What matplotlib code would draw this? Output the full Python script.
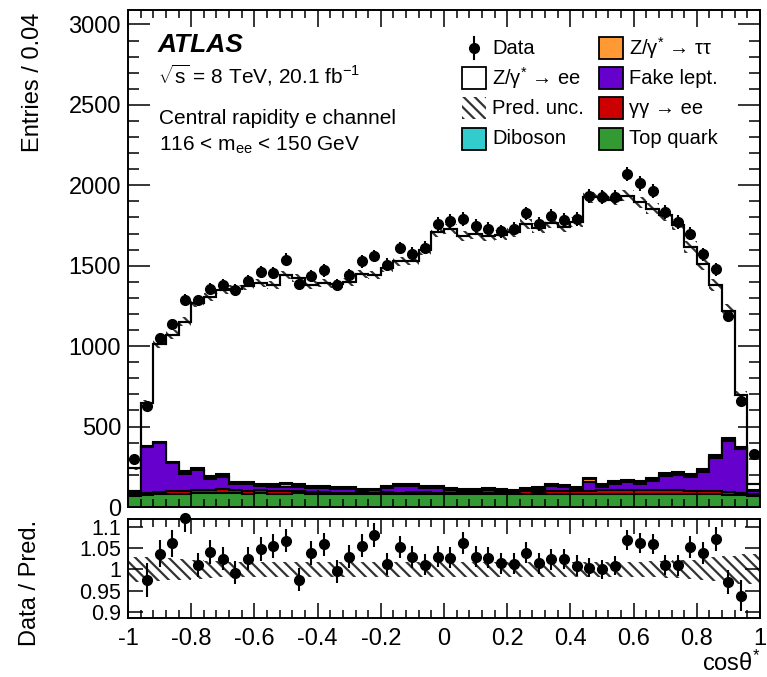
import numpy as np
import matplotlib
matplotlib.use("Agg")
import matplotlib.pyplot as plt
from matplotlib.ticker import MultipleLocator, FixedLocator
from matplotlib.patches import Rectangle
from matplotlib.lines import Line2D

plt.rcParams["font.family"] = ["Liberation Sans", "DejaVu Sans"]
plt.rcParams["mathtext.fontset"] = "custom"
plt.rcParams["mathtext.rm"] = "Liberation Sans"
plt.rcParams["mathtext.it"] = "Liberation Sans:italic"
plt.rcParams["hatch.linewidth"] = 1.6

W, H = 767, 677
edges = np.linspace(-1.0, 1.0, 51)   # 50 bins of 0.04 in cos(theta*)

# observed events per bin
data = np.array([
    300, 630, 1052, 1135, 1289, 1284, 1357, 1382, 1347, 1405,
    1461, 1455, 1538, 1388, 1436, 1471, 1380, 1440, 1527, 1560,
    1507, 1610, 1575, 1613, 1758, 1777, 1789, 1746, 1731, 1714,
    1731, 1825, 1758, 1808, 1783, 1789, 1933, 1928, 1928, 2070,
    2012, 1964, 1835, 1772, 1700, 1571, 1477, 1186, 656, 330])

# predicted contributions per bin
zee = np.array([
    140, 266, 608, 788, 927, 1026, 1112, 1144, 1202, 1215,
    1249, 1238, 1289, 1281, 1252, 1259, 1261, 1274, 1337, 1329,
    1357, 1388, 1390, 1464, 1576, 1609, 1572, 1582, 1567, 1577,
    1601, 1639, 1612, 1622, 1604, 1648, 1742, 1787, 1749, 1765,
    1734, 1672, 1605, 1538, 1412, 1278, 1058, 793, 323, 36])
top = np.array([
    70, 75, 78, 80, 80, 85, 85, 88, 85, 82,
    85, 82, 82, 85, 83, 80, 80, 78, 78, 80,
    82, 80, 80, 82, 80, 80, 78, 80, 78, 80,
    80, 82, 80, 82, 82, 80, 80, 82, 80, 82,
    82, 82, 82, 80, 80, 80, 78, 75, 72, 70])
gamgam = np.array([
    8, 12, 18, 20, 18, 22, 22, 25, 22, 20,
    20, 20, 20, 15, 12, 12, 10, 10, 8, 8,
    10, 10, 12, 10, 10, 10, 10, 10, 10, 10,
    12, 15, 15, 18, 20, 18, 22, 22, 25, 25,
    25, 25, 25, 25, 22, 22, 20, 18, 12, 10])
fake = np.array([
    18, 285, 303, 172, 110, 122, 70, 75, 35, 40,
    25, 24, 25, 26, 23, 26, 23, 25, 12, 15,
    26, 38, 36, 26, 28, 17, 12, 10, 17, 10,
    3, 8, 13, 31, 21, 13, 56, 21, 41, 47,
    39, 52, 87, 97, 86, 117, 206, 317, 277, 18])
tautau = np.array([
    1, 2, 2, 2, 4, 4, 4, 4, 4, 4,
    5, 5, 15, 5, 4, 4, 4, 4, 4, 4,
    4, 4, 4, 4, 4, 4, 4, 4, 4, 4,
    4, 4, 4, 4, 4, 4, 15, 4, 4, 4,
    4, 12, 4, 4, 4, 4, 4, 4, 3, 1])
diboson = np.array([
    3, 6, 6, 8, 12, 12, 12, 12, 10, 10,
    10, 10, 10, 10, 9, 9, 8, 8, 8, 8,
    9, 9, 9, 9, 9, 9, 9, 9, 9, 9,
    9, 9, 10, 10, 10, 10, 10, 12, 12, 12,
    12, 12, 12, 12, 12, 12, 14, 14, 12, 6])
# relative uncertainty of the prediction
pred_unc = np.array([
    0.030, 0.030, 0.028, 0.026, 0.024, 0.022, 0.020, 0.019, 0.018, 0.018,
    0.018, 0.018, 0.018, 0.018, 0.018, 0.018, 0.018, 0.018, 0.018, 0.018,
    0.018, 0.018, 0.018, 0.018, 0.018, 0.018, 0.018, 0.018, 0.018, 0.018,
    0.018, 0.018, 0.018, 0.018, 0.018, 0.018, 0.018, 0.018, 0.018, 0.018,
    0.018, 0.019, 0.020, 0.021, 0.023, 0.025, 0.028, 0.032, 0.035, 0.035])

C_TOP, C_GG, C_FAKE = "#339933", "#cc0000", "#6600cc"
C_TT, C_DIB = "#ff9933", "#33cccc"
HATCH = "\\\\\\"
HATCH_COL = "#333333"

# stack, bottom to top
stack = [(top, C_TOP), (gamgam, C_GG), (fake, C_FAKE),
         (tautau, C_TT), (diboson, C_DIB), (zee, "white")]
cums = np.cumsum([s[0] for s in stack], axis=0)
pred = cums[-1]

fig = plt.figure(figsize=(W / 100, H / 100), dpi=100)
ax = fig.add_axes([128 / W, 1 - 507 / H, 632 / W, 497 / H])
rax = fig.add_axes([128 / W, 1 - 618 / H, 632 / W, 99 / H])

# upper panel: draw cumulative layers from the top down so each outline shows
for vals, (_, col) in zip(cums[::-1], stack[::-1]):
    ax.stairs(vals, edges, baseline=0, fill=True, facecolor=col,
              edgecolor="black", linewidth=1.5)
ax.stairs(pred * (1 + pred_unc), edges, baseline=pred * (1 - pred_unc), fill=True,
          facecolor="none", edgecolor=HATCH_COL, hatch=HATCH, linewidth=0)
ax.stairs(pred, edges, baseline=None, fill=False, edgecolor="black", linewidth=1.5)

centers = 0.5 * (edges[:-1] + edges[1:])
err = np.sqrt(data)
ax.errorbar(centers, data, yerr=err, fmt="o", color="black", ms=7,
            elinewidth=1.5, capsize=0, zorder=5)

ax.set_xlim(-1, 1)
ax.set_ylim(0, 3090)
ax.xaxis.set_major_locator(MultipleLocator(0.2))
ax.xaxis.set_minor_locator(MultipleLocator(0.04))
ax.yaxis.set_major_locator(MultipleLocator(500))
ax.yaxis.set_minor_locator(MultipleLocator(100))
ax.tick_params(axis="x", which="both", direction="in", top=True, bottom=True, labelbottom=False)
ax.tick_params(axis="x", which="major", length=12, width=1.1)
ax.tick_params(axis="x", which="minor", length=6, width=1.1)
ax.tick_params(axis="y", which="both", direction="in", left=True, right=True,
               labelsize=17, pad=5)
ax.tick_params(axis="y", which="major", length=16, width=1.1)
ax.tick_params(axis="y", which="minor", length=8, width=1.1)
for sp in ax.spines.values():
    sp.set_linewidth(1.4)

# ratio panel
ratio = data / pred
rerr = np.sqrt(data) / pred
rax.stairs(1 + pred_unc, edges, baseline=1 - pred_unc, fill=True,
           facecolor="none", edgecolor=HATCH_COL, hatch=HATCH, linewidth=0)
show = (ratio > 0.85) & (ratio < 1.15)
eb = rax.errorbar(centers[show], ratio[show], yerr=rerr[show], fmt="o", color="black",
                  ms=7, elinewidth=1.5, capsize=0, zorder=5)
eb[0].set_clip_on(False)

rax.set_xlim(-1, 1)
rax.set_ylim(0.886, 1.118)
rax.xaxis.set_minor_locator(MultipleLocator(0.04))
rax.yaxis.set_major_locator(FixedLocator([0.9, 0.95, 1.0, 1.05, 1.1]))
rax.set_yticklabels(["0.9", "0.95", "1", "1.05", "1.1"])
rax.set_xticks(np.arange(-1, 1.01, 0.2))
rax.set_xticklabels(["-1", "-0.8", "-0.6", "-0.4", "-0.2", "0", "0.2", "0.4", "0.6", "0.8", "1"])
rax.tick_params(axis="x", which="both", direction="in", top=True, bottom=True,
                labelsize=17, pad=7)
rax.tick_params(axis="x", which="major", length=11, width=1.1)
rax.tick_params(axis="x", which="minor", length=6, width=1.1)
rax.tick_params(axis="y", which="both", direction="in", left=True, right=True,
                labelsize=15.5, pad=5, length=11, width=1.1)
for sp in rax.spines.values():
    sp.set_linewidth(1.4)


def fx(x):
    return x / W


def fy(y):
    return 1 - y / H


fig.text(fx(33), fy(13), "Entries / 0.04", rotation=90, ha="center", va="top", fontsize=17)
fig.text(fx(30), fy(583), "Data / Pred.", rotation=90, ha="center", va="center", fontsize=17)
fig.text(fx(760), fy(671), "cosθ$^{*}$", ha="right", va="baseline", fontsize=17)

fig.text(fx(158), fy(52), "ATLAS", fontsize=19, fontweight="bold", fontstyle="italic")
fig.text(fx(158), fy(84), r"$\sqrt{\mathrm{s}}$ = 8 TeV, 20.1 fb$^{-1}$", fontsize=15)
fig.text(fx(159), fy(124), "Central rapidity e channel", fontsize=15)
fig.text(fx(159), fy(151), r"116 < m$_{\mathrm{ee}}$ < 150 GeV", fontsize=15)

# legend, two columns
rows = [48, 78, 108, 139]
col1 = [("data", "Data"), ("white", "Z/γ$^{*}$ → ee"),
        ("hatch", "Pred. unc."), (C_DIB, "Diboson")]
col2 = [(C_TT, "Z/γ$^{*}$ → ττ"), (C_FAKE, "Fake lept."),
        (C_GG, "γγ → ee"), (C_TOP, "Top quark")]
for bx, entries in ((462, col1), (599, col2)):
    for y, (kind, label) in zip(rows, entries):
        if kind == "data":
            fig.add_artist(Line2D([fx(bx + 12)] * 2, [fy(y - 11), fy(y + 11)],
                                  color="black", lw=1.5))
            fig.add_artist(Line2D([fx(bx + 12)], [fy(y)], marker="o", ms=7, color="black"))
        elif kind == "hatch":
            fig.add_artist(Rectangle((fx(bx), fy(y + 11)), 24 / W, 22 / H,
                                     facecolor="none", edgecolor=HATCH_COL,
                                     hatch=HATCH, lw=0))
        else:
            fig.add_artist(Rectangle((fx(bx), fy(y + 11)), 24 / W, 22 / H,
                                     facecolor=kind, edgecolor="black", lw=1.3))
        fig.text(fx(bx + 30), fy(y), label, fontsize=14.5, va="center")

fig.savefig("out.png", dpi=100)
